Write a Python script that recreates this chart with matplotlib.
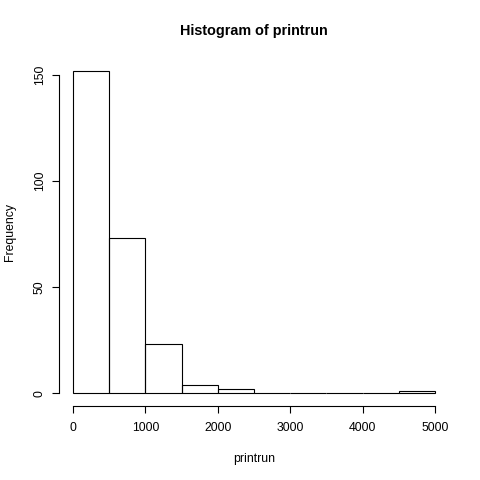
import matplotlib.pyplot as plt
import numpy as np

# histogram of printrun: bin edges and counts
edges = [0, 500, 1000, 1500, 2000, 2500, 3000, 3500, 4000, 4500, 5000]
counts = [152, 73, 23, 4, 2, 0, 0, 0, 0, 1]
xticks = [0, 1000, 2000, 3000, 4000, 5000]
yticks = [0, 50, 100, 150]

plt.rcParams["font.family"] = ["Liberation Sans", "DejaVu Sans"]

fig = plt.figure(figsize=(4.8, 4.8), dpi=100)
ax = fig.add_axes([58.5 / 480, 74 / 480, 391 / 480, 348 / 480])

lefts = np.array(edges[:-1])
widths = np.diff(edges)
ax.bar(lefts, counts, width=widths, align="edge", fill=False,
       edgecolor="black", linewidth=0.8)

ax.set_xlim(-200, 5200)
ax.set_ylim(-6.08, 158.08)

for s in ["top", "right"]:
    ax.spines[s].set_visible(False)
ax.spines["left"].set_bounds(0, 150)
ax.spines["bottom"].set_bounds(0, 5000)
ax.spines["left"].set_linewidth(0.8)
ax.spines["bottom"].set_linewidth(0.8)

ax.set_xticks(xticks)
ax.set_yticks(yticks)
ax.tick_params(axis="both", length=5.2, width=0.8, labelsize=8.8, pad=6)
ax.tick_params(axis="y", labelrotation=90, pad=4)
for lab in ax.get_yticklabels():
    lab.set_va("center")

fig.text(254 / 480, 1 - 31 / 480, "Histogram of printrun", ha="center",
         va="center", fontsize=10.4, fontweight="bold")
fig.text(254 / 480, 1 - 459 / 480, "printrun", ha="center", va="center",
         fontsize=8.8)
fig.text(10 / 480, 1 - 232 / 480, "Frequency", ha="center", va="center",
         rotation=90, fontsize=8.8)

fig.savefig("out.png", dpi=100)
